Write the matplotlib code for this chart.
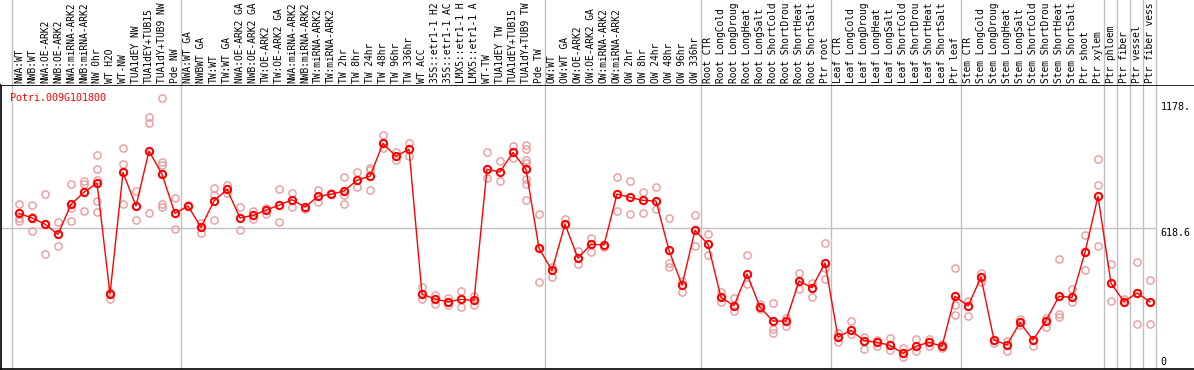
import matplotlib
matplotlib.use("Agg")
import matplotlib.pyplot as plt

# amostras (rotulos do cabecalho, cortados em 14 caracteres como no original)
samples = [
    "NWA:WT", "NWB:WT", "NWA:OE-ARK2", "NWB:OE-ARK2", "NWA:miRNA-ARK2", "NWB:miRNA-ARK2",
    "NW 0hr", "WT H2O", "WT-NW", "TUA1dEY NW", "TUA1dEY+TUB15", "TUA1dY+TUB9 NW", "Pde NW",
    "NWA:WT GA", "NWBWT GA", "TW:WT", "TW:WT GA", "NWA:OE-ARK2 GA", "NWB:OE-ARK2 GA",
    "TW:OE-ARK2", "TW:OE-ARK2 GA", "NWA:miRNA-ARK2", "NWB:miRNA-ARK2", "TW:miRNA-ARK2",
    "TW:miRNA-ARK2", "TW 2hr", "TW 8hr", "TW 24hr", "TW 48hr", "TW 96hr", "TW 336hr", "WT ACC",
    "35S::etr1-1 H2", "35S::etr1-1 AC", "LMX5::etr1-1 H", "LMX5::etr1-1 A", "WT-TW",
    "TUA1dEY TW", "TUA1dEY+TUB15", "TUA1dY+TUB9 TW", "Pde TW",
    "OW:WT", "OW:WT GA", "OW:OE-ARK2", "OW:OE-ARK2 GA", "OW:miRNA-ARK2", "OW:miRNA-ARK2",
    "OW 2hr", "OW 8hr", "OW 24hr", "OW 48hr", "OW 96hr", "OW 336hr",
    "Root CTR", "Root LongCold", "Root LongDroug", "Root LongHeat", "Root LongSalt",
    "Root ShortCold", "Root ShortDrou", "Root ShortHeat", "Root ShortSalt", "Ptr root",
    "Leaf CTR", "Leaf LongCold", "Leaf LongDroug", "Leaf LongHeat", "Leaf LongSalt",
    "Leaf ShortCold", "Leaf ShortDrou", "Leaf ShortHeat", "Leaf ShortSalt", "Ptr leaf",
    "Stem CTR", "Stem LongCold", "Stem LongDroug", "Stem LongHeat", "Stem LongSalt",
    "Stem ShortCold", "Stem ShortDrou", "Stem ShortHeat", "Stem ShortSalt", "Ptr shoot",
    "Ptr xylem", "Ptr phloem", "Ptr fiber", "Ptr vessel", "Ptr fiber vess",
]

# media de cada amostra
means = [
    682, 662, 634, 589, 722, 776, 817, 324, 864, 715, 959, 856, 682,
    715, 620, 737, 789, 662, 673, 697, 718, 743, 710, 758, 767, 782, 829, 847, 993, 936, 967,
    324, 302, 290, 300, 296, 878, 866, 953, 878, 527,
    429, 634, 483, 545, 542, 768, 753, 740, 737, 518, 364, 607,
    545, 309, 272, 413, 265, 204, 204, 382, 352, 462,
    133, 163, 117, 110, 96, 61, 92, 110, 92, 314,
    271, 398, 120, 98, 198, 120, 206, 314, 309, 509, 758,
    372, 290, 329, 289,
]

# replicatas
reps = [
    [724, 663, 650], [718, 665, 602], [767, 634, 502], [642, 589, 537], [811, 705, 648],
    [826, 811, 693], [940, 878, 830, 736, 687], [332, 300], [971, 900, 722], [780, 651],
    [1109, 1082, 682], [1193, 909, 897, 724, 709], [749, 614],
    [718], [641, 596], [795, 764, 651], [807, 771], [709, 607], [691, 659], [707, 679],
    [790, 642], [773, 712], [702], [786, 731], [771], [842, 765, 722], [866, 801],
    [882, 875, 786], [1030, 971], [953, 919], [995, 937], [355, 300], [318, 281],
    [305, 277], [339, 266], [317, 275], [953, 841], [913, 825], [981, 929],
    [984, 967, 919, 907, 833, 811, 742], [678, 376],
    [446, 400], [657], [517, 457], [573, 511], [534], [842, 691], [826, 678], [779, 682],
    [798, 700], [660, 460, 443], [383, 332], [674, 536],
    [589, 496], [333, 289], [305, 249], [496, 370], [281, 258], [283, 167, 152],
    [218, 182], [417, 345], [372, 311], [549, 441, 389],
    [150, 111], [204, 145], [135, 78], [120, 95], [127, 77], [83, 46], [124, 72],
    [124, 92], [102, 83], [438, 275, 229],
    [295, 225], [416, 376], [105], [117, 70], [215, 187], [93], [216, 179],
    [480, 235, 224], [345, 287], [585, 429], [922, 807, 536],
    [457, 293], [303], [465, 190], [385, 190],
]

# separadores entre grupos (indice da ultima amostra de cada grupo)
group_ends = [-1, 12, 40, 52, 62, 72, 83, 84, 85, 86, 87]
ytick_vals = [1178, 618.6, 0]
ytick_txt = ["1178.", "618.6", "0"]
gene = "Potri.009G101800"

W, H = 1194, 370
mono = "DejaVu Sans Mono"
fig = plt.figure(figsize=(W / 100, H / 100), dpi=100)

# eixo x: amostra i no pixel 19 + 13*i
xlim = ((1 - 19) / 13, (W - 19) / 13)
# eixo y: 0 no pixel 367, 0.2252 px por unidade
sc = 0.2252
ylim = (-(369 - 367) / sc, (367 - 85) / sc)

ax = fig.add_axes([1 / W, 1 / H, (W - 1) / W, 284 / H])
hd = fig.add_axes([1 / W, 285 / H, (W - 1) / W, 85 / H])

n = len(samples)
xs = list(range(n))
seps = [e + 0.5 for e in group_ends]

for a in (ax, hd):
    a.set_xlim(*xlim)
    for s in seps:
        a.axvline(s, color="#c0c0c0", lw=1, zorder=0)
    a.set_xticks([])
    a.set_yticks([])

ax.set_ylim(*ylim)
ax.spines["right"].set_visible(False)
for side in ("left", "bottom", "top"):
    ax.spines[side].set_color("black")
    ax.spines[side].set_linewidth(1.2)

hd.set_ylim(0, 85)
for sp in hd.spines.values():
    sp.set_visible(False)

ax.hlines(618.6, seps[0] - 1, seps[-1], color="#c0c0c0", lw=1, zorder=0)

# replicatas
rx, ry = [], []
for i, vals in enumerate(reps):
    for v in vals:
        rx.append(i)
        ry.append(v)
ax.plot(rx, ry, ls="none", marker="o", ms=5.2, mfc="none", mec="#e99a9a", mew=1.0, zorder=2)

# media
ax.plot(xs, means, color="#ff0000", lw=1.0, marker="o", ms=5.2, mfc="none",
        mec="#ff0000", mew=1.5, zorder=3)

for v, t in zip(ytick_vals, ytick_txt):
    va = "bottom" if v == 0 else "top"
    ax.text(87.8, v, t, ha="left", va=va, fontsize=7.2, family=mono, color="black")

ax.text((10 - 19) / 13, (367 - 98) / sc, gene, ha="left", va="center",
        fontsize=7.2, family=mono, color="#ff0000")

for i, lab in enumerate(samples):
    hd.text(i, 2, lab, rotation=90, ha="center", va="bottom", fontsize=6.9,
            family=mono, color="black")

fig.savefig("out.png", dpi=100)
